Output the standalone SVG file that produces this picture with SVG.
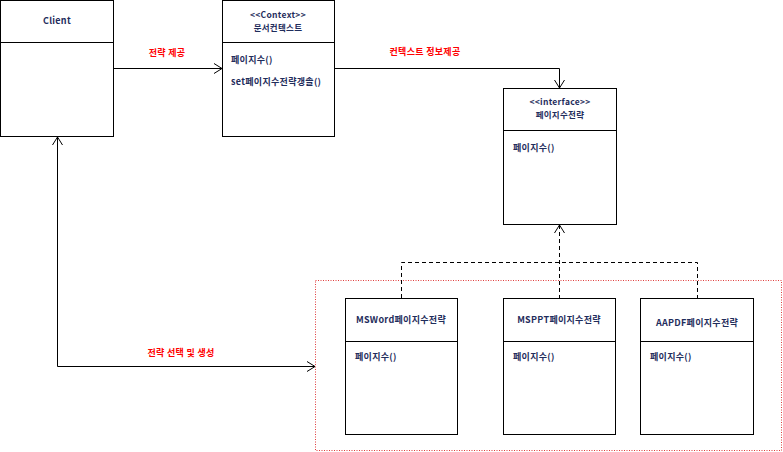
<svg xmlns="http://www.w3.org/2000/svg" width="783" height="452" viewBox="0 0 783 452">
<style>
.box{fill:#fff;stroke:#000;stroke-width:1}
.div{stroke:#000;stroke-width:1}
.t{font-family:"Noto Sans CJK KR","Liberation Sans",sans-serif;font-size:9px;font-weight:bold;fill:#1f2d5c;letter-spacing:0.3px}
.s{font-size:8.5px}
.c{text-anchor:middle}
.lbl{font-family:"Noto Sans CJK KR","Liberation Sans",sans-serif;font-size:9px;font-weight:bold;fill:#ff0000;text-anchor:middle;letter-spacing:0.3px}
.ln{fill:none;stroke:#000;stroke-width:1}
.dash{fill:none;stroke:#000;stroke-width:1;stroke-dasharray:4,3}
.ah{fill:none;stroke:#000;stroke-width:1}
</style>
<rect width="783" height="452" fill="#fff"/>
<rect id="group-frame" x="315.5" y="280.5" width="466" height="170" fill="none" stroke="#e03c3c" stroke-width="1" stroke-dasharray="1,1.5"/>
<g id="client">
<rect class="box" x="0.5" y="0.5" width="113" height="136"/>
<line class="div" x1="0.5" y1="42.5" x2="113.5" y2="42.5"/>
<text class="t c" x="57" y="24">Client</text>
</g>
<g id="context">
<rect class="box" x="222.5" y="0.5" width="112" height="136"/>
<line class="div" x1="222.5" y1="42.5" x2="334.5" y2="42.5"/>
<text class="t s c" x="278" y="18">&lt;&lt;Context&gt;&gt;</text>
<text class="t s c" x="278" y="31">문서컨텍스트</text>
<text class="t" x="231" y="63">페이지수()</text>
<text class="t" x="231" y="85">set페이지수전략갱솔()</text>
</g>
<g id="strategy">
<rect class="box" x="503.5" y="88.5" width="113" height="136"/>
<line class="div" x1="503.5" y1="130.5" x2="616.5" y2="130.5"/>
<text class="t s c" x="560" y="105">&lt;&lt;interface&gt;&gt;</text>
<text class="t s c" x="560" y="118">페이지수전략</text>
<text class="t" x="513" y="151">페이지수()</text>
</g>
<g id="msword">
<rect class="box" x="345.5" y="298.5" width="112" height="136"/>
<line class="div" x1="345.5" y1="341.5" x2="457.5" y2="341.5"/>
<text class="t c" x="401" y="323">MSWord페이지수전략</text>
<text class="t" x="355" y="360">페이지수()</text>
</g>
<g id="msppt">
<rect class="box" x="503.5" y="298.5" width="112" height="136"/>
<line class="div" x1="503.5" y1="341.5" x2="615.5" y2="341.5"/>
<text class="t c" x="559" y="323">MSPPT페이지수전략</text>
<text class="t" x="513" y="360">페이지수()</text>
</g>
<g id="aapdf">
<rect class="box" x="640.5" y="298.5" width="113" height="136"/>
<line class="div" x1="640.5" y1="341.5" x2="753.5" y2="341.5"/>
<text class="t c" x="697" y="326">AAPDF페이지수전략</text>
<text class="t" x="650" y="360">페이지수()</text>
</g>
<g id="connectors">
<line class="ln" x1="113.5" y1="68.5" x2="222" y2="68.5"/>
<polyline class="ah" points="214,63.5 222,68.5 214,73.5"/>
<text class="lbl" x="167" y="56">전략 제공</text>
<polyline class="ln" points="334.5,68.5 559.5,68.5 559.5,88"/>
<polyline class="ah" points="554.5,80 559.5,88 564.5,80"/>
<text class="lbl" x="425" y="55">컨텍스트 정보제공</text>
<polyline class="dash" points="559.5,225 559.5,298"/>
<polyline class="dash" points="401.5,298 401.5,262.5 697.5,262.5 697.5,298"/>
<polyline class="ah" points="554.5,233 559.5,225 564.5,233"/>
<polyline class="ln" points="57.5,137 57.5,366.5 315,366.5"/>
<polyline class="ah" points="52.5,145 57.5,137 62.5,145"/>
<polyline class="ah" points="307,361.5 315,366.5 307,371.5"/>
<text class="lbl" x="181" y="356">전략 선택 및 생성</text>
</g>
</svg>
